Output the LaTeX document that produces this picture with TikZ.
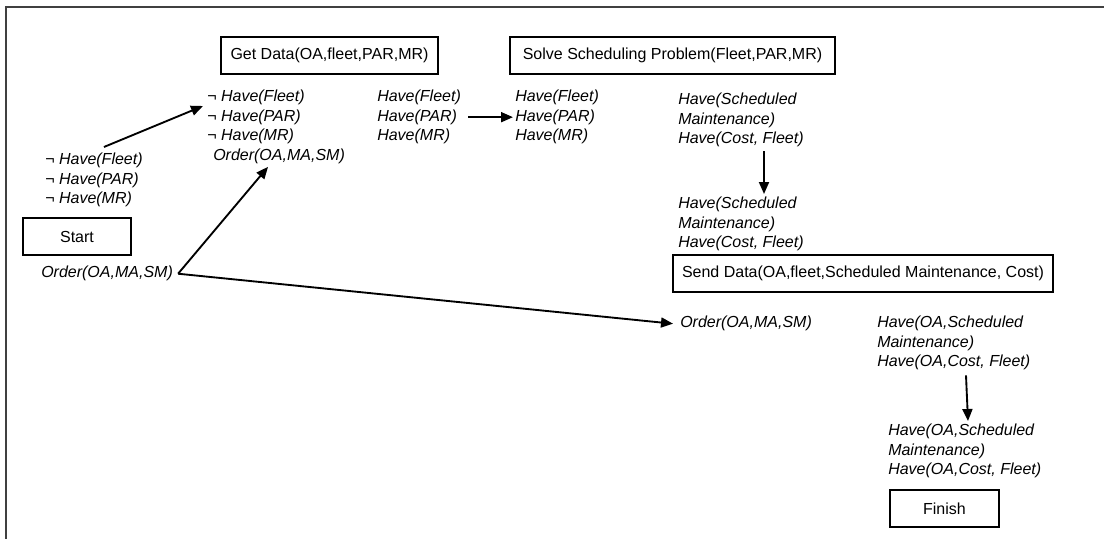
\documentclass[tikz,border=0pt]{standalone}
\usepackage{fontspec}
\setmainfont{Liberation Sans}
\usetikzlibrary{arrows.meta,calc}

\begin{document}
\begin{tikzpicture}[x=0.75pt,y=-0.75pt,
  box/.style={draw, line width=1.5pt, inner sep=0pt, minimum height=27.5pt,
    font=\fontsize{12}{14.6}\selectfont},
  lits/.style={anchor=north west, inner sep=0pt, align=left,
    font=\fontsize{12}{14.6}\selectfont\itshape},
  arr/.style={line width=1.4pt, -{Triangle[length=9pt,width=7.5pt]}}]

\useasboundingbox (0,0) rectangle (1104,539);

% outer frame (top and left edges)
\draw[line width=1.8pt, black!75] (6,539) -- (6,7) -- (1104,7);

% action boxes
\node[box, minimum width=162.75pt] (getdata) at (329.5,55.5) {Get Data(OA,fleet,PAR,MR)};
\node[box, minimum width=243.75pt] (solve)   at (672.5,55.5) {Solve Scheduling Problem(Fleet,PAR,MR)};
\node[box, minimum width=285pt]    (send)    at (863,273.5)  {Send Data(OA,fleet,Scheduled Maintenance, Cost)};
\node[box, minimum width=81pt]     (start)   at (77,236.5)   {Start};
\node[box, minimum width=81.75pt]  (finish)  at (944.5,508.5) {Finish};

% literal lists
\node[lits] (startpre) at (45,153) {{\upshape¬} Have(Fleet)\\{\upshape¬} Have(PAR)\\{\upshape¬} Have(MR)};
\node[lits] (starteff) at (41,266) {Order(OA,MA,SM)};
\node[lits] (getpre)   at (207,90) {{\upshape¬} Have(Fleet)\\{\upshape¬} Have(PAR)\\{\upshape¬} Have(MR)\\\hspace*{4.5pt}Order(OA,MA,SM)};
\node[lits] (geteff)   at (377,90) {Have(Fleet)\\Have(PAR)\\Have(MR)};
\node[lits] (solvepre) at (515,90) {Have(Fleet)\\Have(PAR)\\Have(MR)};
\node[lits] (solveeff) at (678,93) {Have(Scheduled\\Maintenance)\\Have(Cost, Fleet)};
\node[lits] (sendpre)  at (678,197) {Have(Scheduled\\Maintenance)\\Have(Cost, Fleet)};
\node[lits] (sendord)  at (680,316) {Order(OA,MA,SM)};
\node[lits] (sendeff)  at (877,316) {Have(OA,Scheduled\\Maintenance)\\Have(OA,Cost, Fleet)};
\node[lits] (finpre)   at (888,424) {Have(OA,Scheduled\\Maintenance)\\Have(OA,Cost, Fleet)};

% causal links
\coordinate (fork) at ($(starteff.east)+(5,0)$);
\draw[arr] ($(startpre.north)+(10,-6)$) -- ($(getpre.north west)+(-4,16)$);
\draw[arr] (fork) -- ($(getpre.south)+(-8,3)$);
\draw[arr] (fork) -- ($(sendord.west)+(-7,0)$);
\draw[arr] ($(geteff.east)+(7,0)$) -- ($(solvepre.west)+(-2,0)$);
\coordinate (c5) at (764,0);
\draw[arr] ($(solveeff.south -| c5)+(0,4)$) -- ($(sendpre.north -| c5)+(0,-3)$);
\coordinate (c7a) at (966,0);
\coordinate (c7b) at (968,0);
\draw[arr] ($(sendeff.south -| c7a)+(0,5)$) -- ($(finpre.north -| c7b)+(0,-3)$);
\end{tikzpicture}
\end{document}
